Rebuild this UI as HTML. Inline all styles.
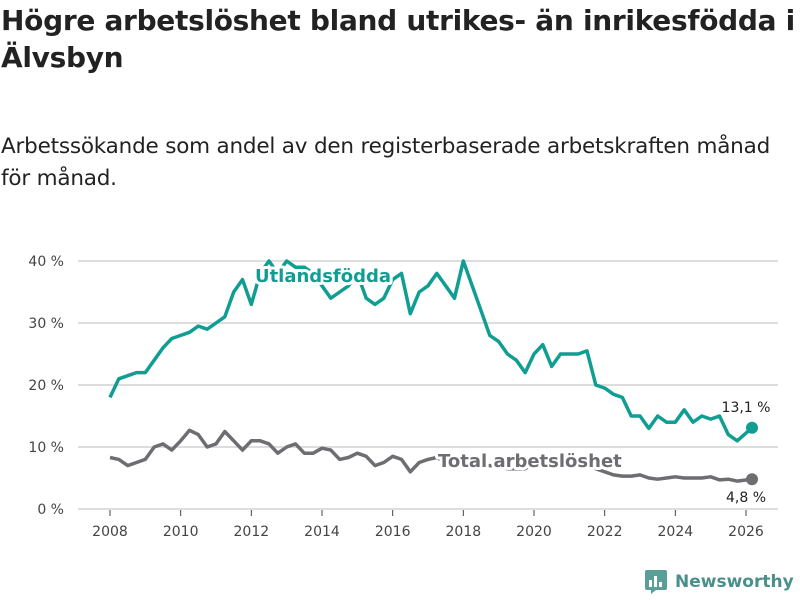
<!DOCTYPE html>
<html><head><meta charset="utf-8">
<style>
body{margin:0;width:800px;height:600px;background:#fff;font-family:"DejaVu Sans","Liberation Sans",sans-serif;overflow:hidden;position:relative}
h1{position:absolute;left:1px;top:2px;margin:0;font-size:28px;line-height:37px;font-weight:bold;color:#222;width:800px;letter-spacing:-0.3px}
.sub{position:absolute;left:1px;top:131px;margin:0;font-size:21.5px;line-height:32px;color:#222;width:790px;letter-spacing:-0.2px}
.logo{position:absolute;left:645px;top:570px;display:flex;align-items:center;gap:8px;color:#4a8f8a;font-weight:bold;font-size:17px}
</style></head><body>
<h1>Högre arbetslöshet bland utrikes- än inrikesfödda i Älvsbyn</h1>
<p class="sub">Arbetssökande som andel av den registerbaserade arbetskraften månad för månad.</p>
<svg id="c" width="800" height="600" style="position:absolute;left:0;top:0"></svg>
<div class="logo"><svg width="22" height="24"><rect x="0" y="0" width="22" height="20" rx="2" fill="#5a9e98"/><polygon points="6,20 11,20 6,24" fill="#5a9e98"/><rect x="4" y="10" width="3" height="7" fill="#fff"/><rect x="9" y="6" width="3" height="11" fill="#fff"/><rect x="14" y="12" width="3" height="5" fill="#fff"/></svg><span>Newsworthy</span></div>
<script>
const yTicks=[0,10,20,30,40];
const yTickLabels=["0 %","10 %","20 %","30 %","40 %"];
const xTicks=[2008,2010,2012,2014,2016,2018,2020,2022,2024,2026];
const startYear=2008, step=0.25;
const foreign=[18,21,21.5,22, 22,24,26,27.5, 28,28.5,29.5,29, 30,31,35,37, 33,38,40,38, 40,39,39,38, 36,34,35,36, 38,34,33,34, 37,38,31.5,35, 36,38,36,34, 40,36,32,28, 27,25,24,22, 25,26.5,23,25, 25,25,25.5,20, 19.5,18.5,18,15, 15,13,15,14, 14,16,14,15, 14.5,15,12,11, 13.1];
const total=[8.3,8,7,7.5, 8,10,10.5,9.5, 11,12.7,12,10, 10.5,12.5,11,9.5, 11,11,10.5,9, 10,10.5,9,9, 9.8,9.5,8,8.3, 9,8.5,7,7.5, 8.5,8,6,7.5, 8,8.3,7.5,7.5, 8,7.5,7,7, 7,6.5,6.5,6.5, 7.5,8,7.5,7, 7,7,7.5,6.5, 6,5.5,5.3,5.3, 5.5,5,4.8,5, 5.2,5,5,5, 5.2,4.7,4.8,4.5, 4.8];
const lastX=2026.17;
const svg=document.getElementById('c');const NS='http://www.w3.org/2000/svg';
const x=v=>110+(v-2008)*(636/18);
const y=v=>509-v*6.2;
function mk(t,a,p){const e=document.createElementNS(NS,t);for(const k in a)e.setAttribute(k,a[k]);(p||svg).appendChild(e);return e;}
yTicks.forEach((t,i)=>{
 const l=mk('line',{x1:78,x2:778,y1:y(t),y2:y(t),stroke:'#ddd','stroke-width':2});
 
 
 const tx=mk('text',{x:64,y:y(t)+5,'text-anchor':'end','font-size':14,fill:'#444'});tx.textContent=yTickLabels[i];
 
 
});
xTicks.forEach(t=>{
 mk('line',{x1:x(t),x2:x(t),y1:510,y2:516,stroke:'#444','stroke-width':1});
 const tx=mk('text',{x:x(t),y:536,'text-anchor':'middle','font-size':14,fill:'#444'});tx.textContent=t;
 
 
});
function px(i,n){return i===n-1?lastX:startYear+i*step;}
function path(d,col,name){
 const p=d.map((v,i)=>(i?'L':'M')+x(px(i,d.length)).toFixed(1)+','+y(v).toFixed(1)).join('');
 const e=mk('path',{d:p,fill:'none',stroke:col,'stroke-width':3.5,'stroke-linejoin':'round'});
 
 
 const c=mk('circle',{cx:x(lastX),cy:y(d[d.length-1]),r:6,fill:col});
 
 
}
path(total,'#6d6d72','total-line');
path(foreign,'#109e92','foreign-line');
function lab(txt,xx,yy,col,name,sz,w,anchor){
 const t=mk('text',{x:xx,y:yy,'font-size':sz,'font-weight':w,fill:col,'text-anchor':anchor||'start',stroke:'#fff','stroke-width':w==='bold'?6:4,'paint-order':'stroke','stroke-linejoin':'round'});
 t.textContent=txt;
 
 
}
lab('Utlandsfödda',323,282,'#109e92','foreign-series-label',18,'bold','middle');
lab('Total arbetslöshet',438,467,'#6d6d72','total-series-label',18,'bold','start');
lab('13,1 %',746,412,'#222','foreign-end-value',14,'normal','middle');
lab('4,8 %',746,502,'#222','total-end-value',14,'normal','middle');
</script>
</body></html>
